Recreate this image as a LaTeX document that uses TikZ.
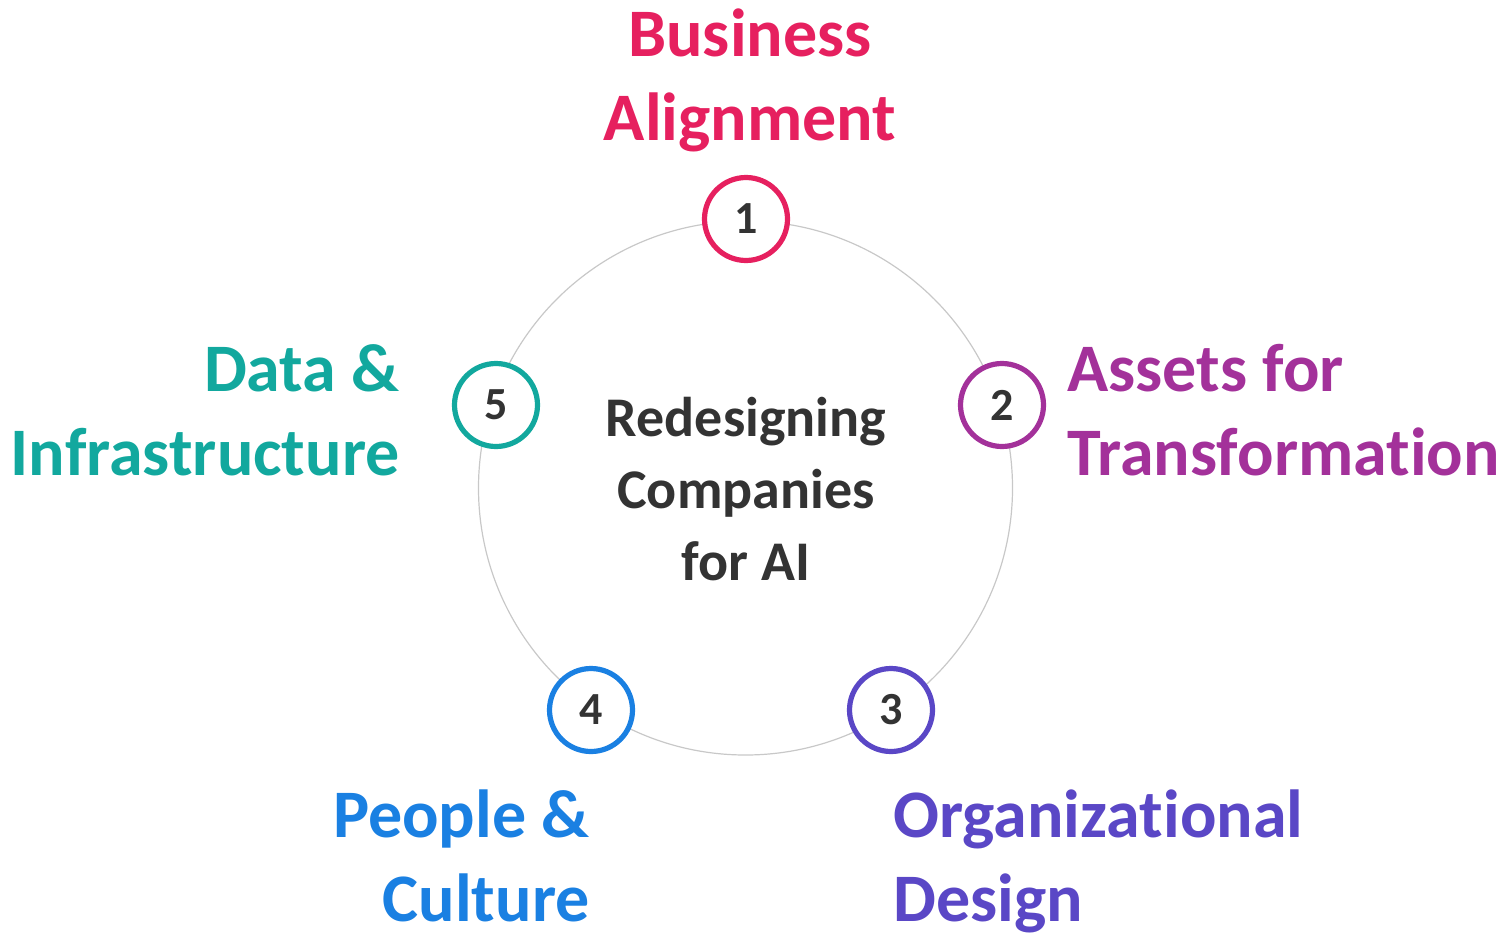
\documentclass[tikz,border=0pt]{standalone}
\usepackage{fontspec}
\setmainfont[Ligatures=NoCommon]{Carlito}
\definecolor{cpink}{HTML}{E6205F}
\definecolor{cpurple}{HTML}{A3319A}
\definecolor{cindigo}{HTML}{5A47C6}
\definecolor{cblue}{HTML}{1A80E2}
\definecolor{cteal}{HTML}{12A89E}
\definecolor{cdark}{HTML}{333333}
\definecolor{cring}{HTML}{C8C8C8}
\begin{document}
\begin{tikzpicture}[x=0.5pt,y=-0.5pt,
  numring/.style={circle,draw=#1,line width=2.6pt,fill=white,minimum size=41.5pt,inner sep=0pt,
     text=cdark,font=\bfseries\fontsize{23}{23}\selectfont},
  bigtitle/.style={text=#1,font=\bfseries\fontsize{34}{42}\selectfont,inner sep=0pt},
  centertext/.style={text=cdark,font=\bfseries\fontsize{28}{36}\selectfont,inner sep=0pt,align=center}]
\useasboundingbox (0,0) rectangle (1509,937);
% central ring
\node[circle,draw=cring,line width=0.6pt,minimum size=267pt,inner sep=0pt] (ring) at (745.5,488) {};
% center text
\node[centertext,anchor=north] (center) at (746,397) {Redesigning\\Companies\\for AI};
% numbered circles
\node[numring=cpink]   (n1) at (746,219) {1};
\node[numring=cpurple] (n2) at (1002,405) {2};
\node[numring=cindigo] (n3) at (891,710) {3};
\node[numring=cblue]   (n4) at (591,710) {4};
\node[numring=cteal]   (n5) at (496,405) {5};
% labels
\node[bigtitle=cpink,align=center,anchor=north] (t1) at (750,8) {Business\\Alignment};
\node[bigtitle=cpurple,align=left,anchor=north west] (t2) at (1067,344) {Assets for\\Transformation};
\node[bigtitle=cindigo,align=left,anchor=north west] (t3) at (893,789) {Organizational\\Design};
\node[bigtitle=cblue,align=right,anchor=north east] (t4) at (590,789) {People \&\\Culture};
\node[bigtitle=cteal,align=right,anchor=north east] (t5) at (400,344) {Data \&\\Infrastructure};
\end{tikzpicture}
\end{document}
